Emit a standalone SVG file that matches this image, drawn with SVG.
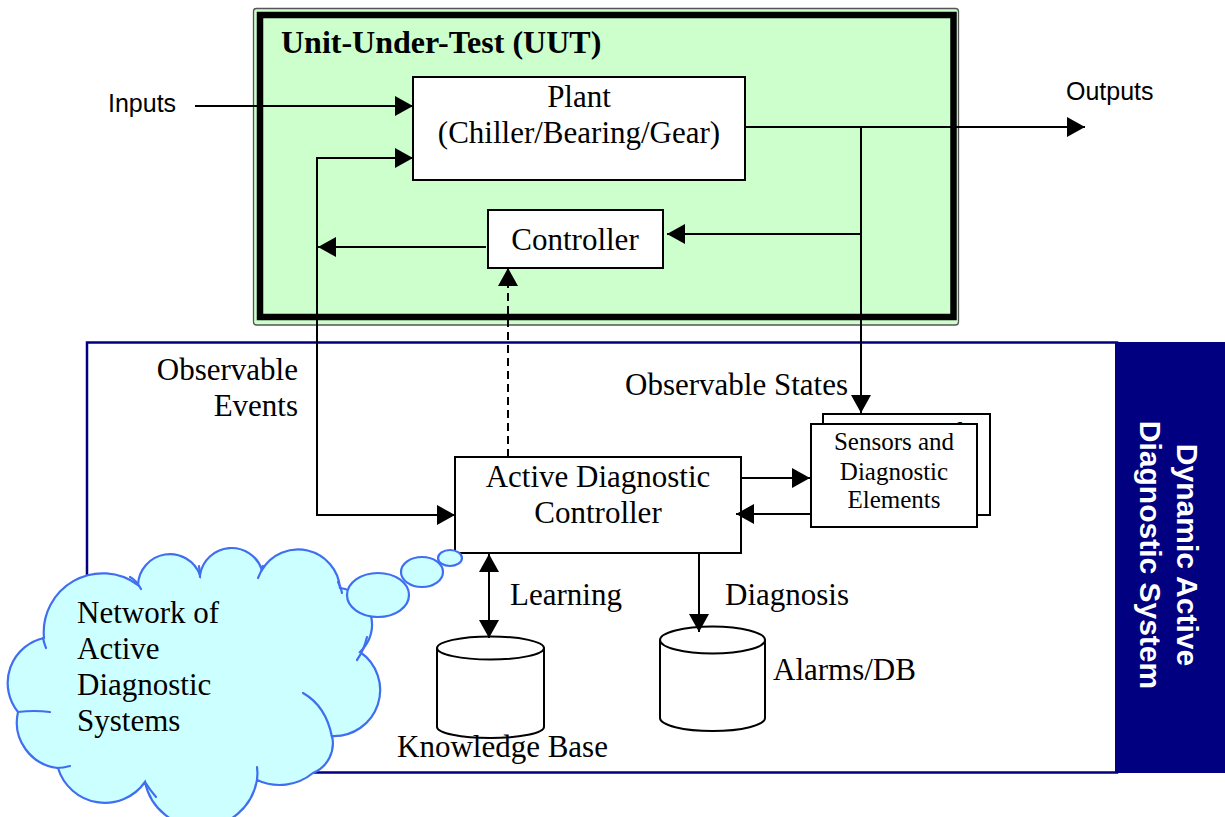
<svg xmlns="http://www.w3.org/2000/svg" width="1225" height="817" viewBox="0 0 1225 817">
  <style>
    .serif { font-family: "Liberation Serif", "Times New Roman", serif; fill: #000; }
    .sans { font-family: "Liberation Sans", Arial, sans-serif; fill: #000; }
    .box { fill: #fff; stroke: #000; stroke-width: 2; }
    .wire { fill: none; stroke: #000; stroke-width: 2; }
    .dash { fill: none; stroke: #000; stroke-width: 2; stroke-dasharray: 8 5; }
    .cloud { fill: #ccffff; stroke: #3f6ff0; stroke-width: 2.2; }
    .crease { fill: none; stroke: #3f6ff0; stroke-width: 2.2; stroke-linecap: round; }
  </style>
  <defs>
    <marker id="arrow" viewBox="0 0 18 20" refX="18" refY="10" markerWidth="18" markerHeight="20" markerUnits="userSpaceOnUse" orient="auto-start-reverse">
      <path d="M0,0 L18,10 L0,20 z" fill="#000"/>
    </marker>
  </defs>

  <rect width="1225" height="817" fill="#fff"/>

  <!-- Dynamic Active Diagnostic System frame -->
  <g id="dads">
    <rect x="87" y="342.5" width="1030" height="430" fill="#fff" stroke="#000080" stroke-width="2.5"/>
    <rect x="1115" y="342" width="110" height="431" fill="#000080"/>
    <g transform="translate(1160,555) rotate(90)">
      <text class="sans" x="0" y="-17" font-size="30" font-weight="bold" text-anchor="middle" fill="#fff" style="fill:#fff">Dynamic Active</text>
      <text class="sans" x="0" y="20" font-size="30" font-weight="bold" text-anchor="middle" fill="#fff" style="fill:#fff">Diagnostic System</text>
    </g>
  </g>

  <!-- Unit-Under-Test frame -->
  <g id="uut">
    <rect x="253.5" y="8.5" width="705" height="316.5" rx="3" fill="#ccffcc" stroke="#555" stroke-width="1.3"/>
    <rect x="260" y="15" width="693.5" height="302" fill="none" stroke="#000" stroke-width="6.5"/>
    <text class="serif" x="281" y="53" font-size="32" font-weight="bold">Unit-Under-Test (UUT)</text>
  </g>

  <g id="plant">
    <rect class="box" x="413" y="77" width="332" height="103"/>
    <text class="serif" x="579" y="107" font-size="31" text-anchor="middle">Plant</text>
    <text class="serif" x="579" y="143" font-size="31" text-anchor="middle">(Chiller/Bearing/Gear)</text>
  </g>

  <g id="controller">
    <rect class="box" x="488" y="210" width="175" height="58"/>
    <text class="serif" x="575" y="250" font-size="31" text-anchor="middle">Controller</text>
  </g>

  <g id="adc">
    <rect class="box" x="455" y="457" width="286" height="96"/>
    <text class="serif" x="598" y="487" font-size="31" text-anchor="middle">Active Diagnostic</text>
    <text class="serif" x="598" y="523" font-size="31" text-anchor="middle">Controller</text>
  </g>

  <g id="sensors">
    <rect class="box" x="823" y="414" width="167" height="101"/>
    <text class="serif" x="834" y="441" font-size="27">Sensors and</text>
    <rect class="box" x="811" y="424" width="166" height="103"/>
    <text class="serif" x="894" y="450" font-size="25" text-anchor="middle">Sensors and</text>
    <text class="serif" x="894" y="480" font-size="25" text-anchor="middle">Diagnostic</text>
    <text class="serif" x="894" y="508" font-size="25" text-anchor="middle">Elements</text>
  </g>

  <g id="knowledge-base">
    <path class="box" d="M437,648 V727 A53.5,11 0 0 0 544,727 V648"/>
    <ellipse class="box" cx="490.5" cy="648" rx="53.5" ry="11.5"/>
    <text class="serif" x="397" y="757" font-size="31">Knowledge Base</text>
  </g>

  <g id="alarms-db">
    <path class="box" d="M660,640 V718 A52.5,13 0 0 0 765,718 V640"/>
    <ellipse class="box" cx="712.5" cy="640" rx="52.5" ry="13.5"/>
    <text class="serif" x="773" y="680" font-size="31">Alarms/DB</text>
  </g>

  <!-- signal flow -->
  <g id="connectors">
    <path class="wire" d="M195,106 H413" marker-end="url(#arrow)"/>
    <path class="wire" d="M317,300 V158 H413" marker-end="url(#arrow)"/>
    <path class="wire" d="M317,300 V515 H455" marker-end="url(#arrow)"/>
    <path class="wire" d="M486,247 H318" marker-end="url(#arrow)"/>
    <path class="wire" d="M745,127 H1085" marker-end="url(#arrow)"/>
    <path class="wire" d="M861,127 V413" marker-end="url(#arrow)"/>
    <path class="wire" d="M861,234 H667" marker-end="url(#arrow)"/>
    <path class="dash" d="M508,457 V268" marker-end="url(#arrow)"/>
    <path class="wire" d="M741,478 H810" marker-end="url(#arrow)"/>
    <path class="wire" d="M811,514 H736" marker-end="url(#arrow)"/>
    <path class="wire" d="M489,554 V638" marker-start="url(#arrow)" marker-end="url(#arrow)"/>
    <path class="wire" d="M699,553 V632" marker-end="url(#arrow)"/>
  </g>

  <!-- connector labels -->
  <g id="labels">
    <text class="sans" x="108" y="112" font-size="25">Inputs</text>
    <text class="sans" x="1066" y="100" font-size="25">Outputs</text>
    <text class="serif" x="298" y="380" font-size="31" text-anchor="end">Observable</text>
    <text class="serif" x="298" y="416" font-size="31" text-anchor="end">Events</text>
    <text class="serif" x="625" y="395" font-size="31">Observable States</text>
    <text class="serif" x="510" y="605" font-size="31">Learning</text>
    <text class="serif" x="725" y="605" font-size="31">Diagnosis</text>
  </g>

  <!-- network cloud with thought bubbles -->
  <g id="network-cloud">
    <path class="cloud" d="M44,638 A59,59 0 0 1 138,585 A32,32 0 0 1 200,575 A32,32 0 0 1 262,570 A42,42 0 0 1 340,588 A37,37 0 0 1 360,652 A46,46 0 0 1 332,736 A32,32 0 0 1 313,773 A53,53 0 0 1 257,780 A57,57 0 0 1 145,782 A49,49 0 0 1 58,768 A46,46 0 0 1 18,712 A46,46 0 0 1 44,638 Z"/>
    <path class="crease" d="M43,638 Q44,643 46,648"/>
    <path class="crease" d="M130,577 Q136,580 141,589"/>
    <path class="crease" d="M199,566 Q200,572 200,577"/>
    <path class="crease" d="M263,566 Q261,572 258,578"/>
    <path class="crease" d="M338,582 Q341,587 342,593"/>
    <path class="crease" d="M367,637 Q364,650 357,660"/>
    <path class="crease" d="M303,693 Q326,706 332,737"/>
    <path class="crease" d="M257,767 Q258,773 257,780"/>
    <path class="crease" d="M145,782 Q150,790 156,797"/>
    <path class="crease" d="M57,768 Q63,768 70,766"/>
    <path class="crease" d="M18,712 Q34,710 50,712"/>
    <ellipse class="cloud" cx="378" cy="595" rx="31" ry="22"/>
    <ellipse class="cloud" cx="422" cy="572" rx="21" ry="15"/>
    <ellipse class="cloud" cx="450" cy="558" rx="12" ry="8"/>
    <text class="serif" x="77" y="623" font-size="31">Network of</text>
    <text class="serif" x="77" y="659" font-size="31">Active</text>
    <text class="serif" x="77" y="695" font-size="31">Diagnostic</text>
    <text class="serif" x="77" y="731" font-size="31">Systems</text>
  </g>
</svg>
